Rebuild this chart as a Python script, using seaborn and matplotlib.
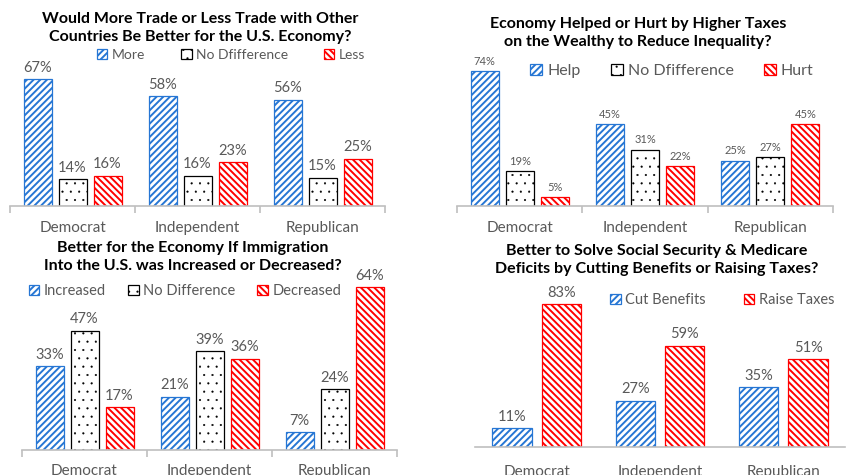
import matplotlib
matplotlib.use("Agg")
import matplotlib.pyplot as plt
import pandas as pd
import seaborn as sns

parties = ["Democrat", "Independent", "Republican"]

# Trade question
trade_labels = ["More", "No Dfifference", "Less"]
trade_more = [67, 58, 56]
trade_none = [14, 16, 15]
trade_less = [16, 23, 25]

# Taxes on the wealthy question
tax_labels = ["Help", "No Dfifference", "Hurt"]
tax_help = [74, 45, 25]
tax_none = [19, 31, 27]
tax_hurt = [5, 22, 45]

# Immigration question
imm_labels = ["Increased", "No Difference", "Decreased"]
imm_increased = [33, 21, 7]
imm_none = [47, 39, 24]
imm_decreased = [17, 36, 64]

# Social Security & Medicare question
ss_labels = ["Cut Benefits", "Raise Taxes"]
ss_cut = [11, 27, 35]
ss_raise = [83, 59, 51]

sns.set_theme(style="white")
plt.rcParams["font.family"] = ["Lato", "DejaVu Sans"]
plt.rcParams["hatch.linewidth"] = 1.4

W, H = 846, 475
fig = plt.figure(figsize=(W / 100, H / 100), dpi=100)

GRAY = "#595959"
AXIS = "#BFBFBF"
BLUE = dict(hatch="/////", edgecolor="#2676D4", hlw=1.4)
DOTS = dict(hatch="..", edgecolor="#000000", hlw=0.3)
RED = dict(hatch="\\\\\\\\\\", edgecolor="#FF0000", hlw=1.4)


def px_axes(x0, x1, base, top):
    return fig.add_axes([x0 / W, (H - base) / H, (x1 - x0) / W, (base - top) / H])


def style_patch(p, st):
    p.set_facecolor("white")
    p.set_hatch(st["hatch"])
    p.set_edgecolor(st["edgecolor"])
    p.set_linewidth(0.9)
    if hasattr(p, "set_hatch_linewidth"):
        p.set_hatch_linewidth(st["hlw"])
    else:
        p._hatch_linewidth = st["hlw"]


def panel(ax, labels, series, styles, ylim, width, gap, label_size,
          cat_pad, boundary_ticks=True):
    values, responses, groups = [], [], []
    for lab, vals in zip(labels, series):
        values += list(vals)
        responses += [lab] * len(vals)
        groups += parties
    df = pd.DataFrame({"party": groups, "response": responses, "pct": values})
    sns.barplot(data=df, x="party", y="pct", hue="response", order=parties,
                hue_order=labels, palette=["white"] * len(labels), saturation=1,
                width=width, gap=gap, legend=False, ax=ax, errorbar=None)
    for cont, st in zip(ax.containers, styles):
        for p in cont:
            style_patch(p, st)
        ax.bar_label(cont, fmt="%d%%", padding=3, fontsize=label_size, color=GRAY)
    ax.set_xlim(-0.5, 2.5)
    ax.set_ylim(*ylim)
    ax.set_xlabel("")
    ax.set_ylabel("")
    ax.set_yticks([])
    for s in ("top", "left", "right"):
        ax.spines[s].set_visible(False)
    ax.spines["bottom"].set_color(AXIS)
    ax.spines["bottom"].set_linewidth(1.2)
    ax.tick_params(axis="x", which="major", length=0, pad=cat_pad,
                   labelsize=11, labelcolor=GRAY)
    if boundary_ticks:
        ax.set_xticks([-0.5, 0.5, 1.5, 2.5], minor=True)
        ax.tick_params(axis="x", which="minor", length=5, width=1.2,
                       color=AXIS, direction="out", bottom=True)
    ax.patch.set_alpha(0)


def legend(ax, labels, styles, cx, cy, size, spacing):
    leg = fig.legend(ax.containers, labels, loc="center",
                     bbox_to_anchor=(cx / W, 1 - cy / H), ncol=len(labels),
                     frameon=False, fontsize=size, labelcolor=GRAY,
                     handlelength=0.75, handleheight=0.75, handletextpad=0.3,
                     columnspacing=spacing, borderpad=0)
    for h, st in zip(leg.legend_handles, styles):
        style_patch(h, st)


def title(text, cx, cy):
    fig.text(cx / W, 1 - cy / H, text, ha="center", va="center",
             fontsize=11.5, fontweight="bold", color="black", linespacing=1.3)


# Top left: trade
ax1 = px_axes(10, 385, 206, 206 - 1.9 * 75)
panel(ax1, trade_labels, [trade_more, trade_none, trade_less], [BLUE, DOTS, RED],
      (0, 75), 0.84, 0.2, 10.5, 11)
title("Would More Trade or Less Trade with Other\nCountries Be Better for the U.S. Economy?", 200, 28)
legend(ax1, trade_labels, [BLUE, DOTS, RED], 231, 55, 10, 2.6)

# Top right: taxes on the wealthy
ax2 = px_axes(457, 833, 206, 206 - 1.82 * 80)
panel(ax2, tax_labels, [tax_help, tax_none, tax_hurt], [BLUE, DOTS, RED],
      (0, 80), 0.84, 0.2, 8, 11)
title("Economy Helped or Hurt by Higher Taxes\non the Wealthy to Reduce Inequality?", 638, 33)
legend(ax2, tax_labels, [BLUE, DOTS, RED], 672, 71, 11.5, 1.9)

# Bottom left: immigration
ax3 = px_axes(22, 397, 450, 450 - 2.54 * 70)
panel(ax3, imm_labels, [imm_increased, imm_none, imm_decreased], [BLUE, DOTS, RED],
      (0, 70), 0.84, 0.2, 10.5, 10)
title("Better for the Economy If Immigration\nInto the U.S. was Increased or Decreased?", 193, 257)
legend(ax3, imm_labels, [BLUE, DOTS, RED], 185, 291, 10.5, 1.5)

# Bottom right: Social Security & Medicare
ax4 = px_axes(475, 845, 447, 447 - 1.72 * 90)
panel(ax4, ss_labels, [ss_cut, ss_raise], [BLUE, RED],
      (0, 90), 0.8, 0.2, 10.5, 13, boundary_ticks=False)
title("Better to Solve Social Security & Medicare\nDeficits by Cutting Benefits or Raising Taxes?", 657, 260)
legend(ax4, ss_labels, [BLUE, RED], 722, 300, 10.5, 2.6)

fig.savefig("out.png", dpi=100)
